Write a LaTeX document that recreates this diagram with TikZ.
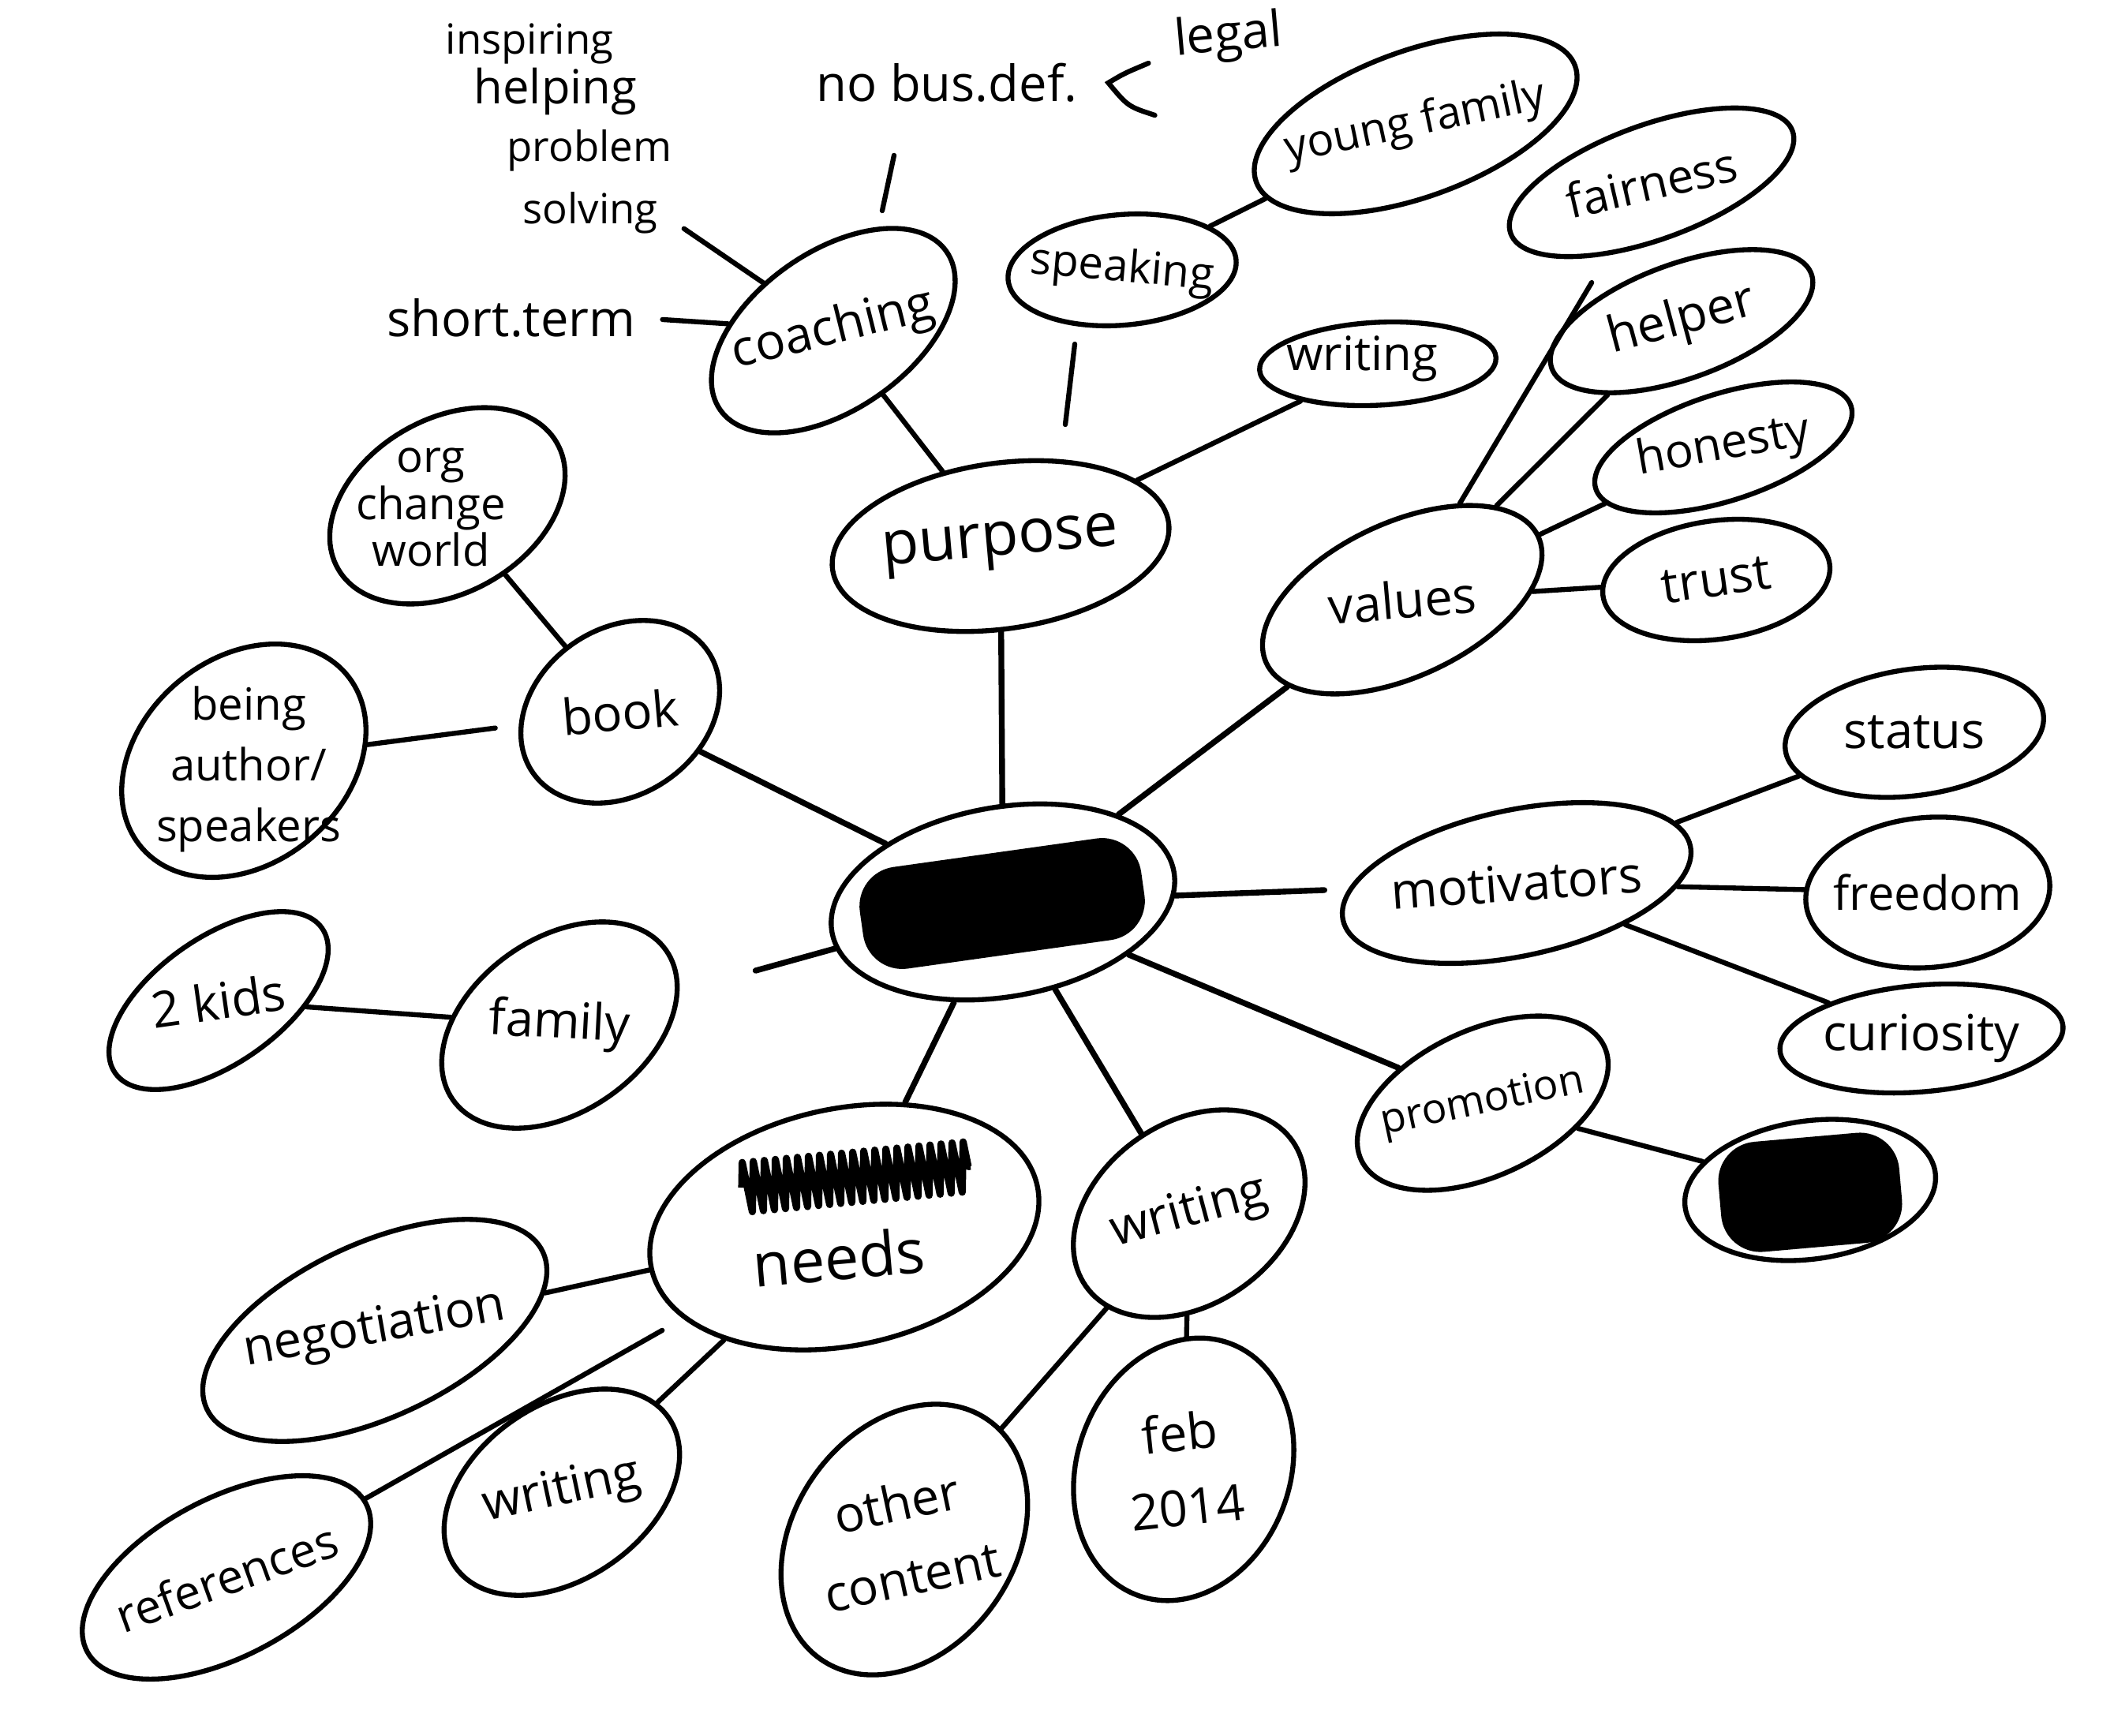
\documentclass[tikz,border=0pt]{standalone}
\usepackage{fontspec}
\setmainfont{Open Sans}
\usetikzlibrary{shapes.geometric,calc,decorations.pathmorphing}

\tikzset{
  bubble/.style={draw, ellipse, line width=1.8pt, inner sep=0pt},
  word/.style={font=\fontsize{18}{22}\selectfont, align=center, inner sep=1pt},
  bigword/.style={font=\fontsize{22}{26}\selectfont, inner sep=1pt},
  note/.style={font=\fontsize{15}{18}\selectfont, inner sep=1pt},
  blot/.style={fill=black, rectangle, rounded corners=0.5cm, inner sep=0pt},
  link/.style={line width=1.8pt, line cap=round},
}

\begin{document}
\begin{tikzpicture}
  \useasboundingbox (0,0) rectangle (26.79,-21.99);

  % centre (blacked out)
  \node[bubble, minimum width=4.4cm, minimum height=2.4cm, rotate=10] (hub) at (12.71,-11.43) {};
  \node[blot, minimum width=3.6cm, minimum height=1.3cm, rotate=8] (hubblot) at (12.70,-11.45) {};

  % purpose side
  \node[bubble, minimum width=4.3cm, minimum height=2.1cm, rotate=8] (purpose) at (12.68,-6.92) {};
  \node[bigword, rotate=5] (purpose-t) at (purpose) {purpose};
  \node[bubble, minimum width=3.5cm, minimum height=2.0cm, rotate=35] (coaching) at (10.56,-4.19) {};
  \node[word, rotate=14] (coaching-t) at (coaching) {coaching};
  \node[bubble, minimum width=2.9cm, minimum height=1.4cm, rotate=5] (speaking) at (14.22,-3.42) {};
  \node[word, font=\fontsize{16}{20}\selectfont, rotate=-5] (speaking-t) at (speaking) {speaking};
  \node[bubble, minimum width=4.3cm, minimum height=1.85cm, rotate=20] (youngfam) at (17.94,-1.57) {};
  \node[word, font=\fontsize{16}{20}\selectfont, rotate=12] (youngfam-t) at (youngfam) {young family};
  \node[bubble, minimum width=3.0cm, minimum height=1.05cm, rotate=3] (wrtop) at (17.46,-4.61) {};
  \node[word, font=\fontsize{17}{20}\selectfont] (wrtop-t) at (17.26,-4.55) {writing};

  \node[note] (inspiring) at (6.71,-0.55) {inspiring};
  \node[note, font=\fontsize{17}{20}\selectfont] (helping) at (7.04,-1.16) {helping};
  \node[note] (problem) at (7.47,-1.91) {problem};
  \node[note] (solving) at (7.48,-2.70) {solving};
  \node[word] (nobus) at (12.0,-1.05) {no bus.def.};
  \node[word, rotate=5] (legal) at (15.57,-0.48) {legal};
  \node[word] (shortterm) at (6.48,-4.03) {short.term};
  \coordinate (fork) at ([xshift=0.35cm]nobus.east);

  % values
  \node[bubble, minimum width=3.8cm, minimum height=1.95cm, rotate=25] (values) at (17.77,-7.60) {};
  \node[word, rotate=5] (values-t) at (values) {values};
  \node[bubble, minimum width=3.8cm, minimum height=1.45cm, rotate=20] (fairness) at (20.93,-2.31) {};
  \node[word, font=\fontsize{17}{20}\selectfont, rotate=13] (fairness-t) at (fairness) {fairness};
  \node[bubble, minimum width=3.5cm, minimum height=1.45cm, rotate=20] (helper) at (21.31,-4.07) {};
  \node[word, rotate=15] (helper-t) at (helper) {helper};
  \node[bubble, minimum width=3.4cm, minimum height=1.35cm, rotate=18] (honesty) at (21.84,-5.67) {};
  \node[word, font=\fontsize{17}{20}\selectfont, rotate=10] (honesty-t) at (honesty) {honesty};
  \node[bubble, minimum width=2.9cm, minimum height=1.5cm, rotate=8] (trust) at (21.75,-7.35) {};
  \node[word, rotate=8] (trust-t) at (trust) {trust};

  % book and family
  \node[bubble, minimum width=2.7cm, minimum height=2.1cm, rotate=35] (book) at (7.86,-9.02) {};
  \node[word, rotate=5] (book-t) at (book) {book};
  \node[bubble, minimum width=3.2cm, minimum height=2.2cm, rotate=30] (orgchange) at (5.67,-6.41) {};
  \node[word, font=\fontsize{16}{17}\selectfont] (orgchange-t) at (5.46,-6.43) {org\\change\\world};
  \node[bubble, minimum width=3.4cm, minimum height=2.6cm, rotate=40] (being) at (3.09,-9.64) {};
  \node[word, font=\fontsize{16}{22}\selectfont] (being-t) at (3.15,-9.75) {being\\author/\\speakers};
  \node[bubble, minimum width=3.3cm, minimum height=2.2cm, rotate=35] (family) at (7.09,-12.99) {};
  \node[word, rotate=-3] (family-t) at (family) {family};
  \node[bubble, minimum width=3.2cm, minimum height=1.6cm, rotate=35] (twokids) at (2.77,-12.68) {};
  \node[word, rotate=8] (twokids-t) at (twokids) {2 kids};

  % motivators
  \node[bubble, minimum width=4.5cm, minimum height=1.85cm, rotate=12] (motivators) at (19.22,-11.19) {};
  \node[word, rotate=4] (motivators-t) at (motivators) {motivators};
  \node[bubble, minimum width=3.3cm, minimum height=1.6cm, rotate=8] (status) at (24.26,-9.28) {};
  \node[word] (status-t) at (status) {status};
  \node[bubble, minimum width=3.1cm, minimum height=1.9cm, rotate=5] (freedom) at (24.43,-11.31) {};
  \node[word, font=\fontsize{17}{20}\selectfont] (freedom-t) at (freedom) {freedom};
  \node[bubble, minimum width=3.6cm, minimum height=1.35cm, rotate=5] (curiosity) at (24.35,-13.16) {};
  \node[word] (curiosity-t) at (curiosity) {curiosity};
  \node[bubble, minimum width=3.4cm, minimum height=1.85cm, rotate=25] (promotion) at (18.79,-13.98) {};
  \node[word, font=\fontsize{15}{18}\selectfont, rotate=12] (promotion-t) at (promotion) {promotion};
  \node[bubble, minimum width=3.2cm, minimum height=1.75cm, rotate=8] (secret) at (22.94,-15.08) {};
  \node[blot, minimum width=2.3cm, minimum height=1.4cm, rotate=5] (secretblot) at (22.94,-15.11) {};

  % needs and writing
  \node[bubble, minimum width=5.0cm, minimum height=3.0cm, rotate=12] (needs) at (10.70,-15.55) {};
  \node[bigword, rotate=5] (needs-t) at (10.63,-15.93) {needs};
  \coordinate (scribbleA) at (9.40,-15.05);
  \coordinate (scribbleB) at (12.30,-14.78);
  \node[bubble, minimum width=4.7cm, minimum height=2.2cm, rotate=25] (negotiation) at (4.75,-16.86) {};
  \node[word, rotate=10] (negotiation-t) at (negotiation) {negotiation};
  \node[bubble, minimum width=4.0cm, minimum height=2.0cm, rotate=28] (references) at (2.87,-19.99) {};
  \node[word, font=\fontsize{17}{20}\selectfont, rotate=20] (references-t) at (references) {references};
  \node[bubble, minimum width=3.3cm, minimum height=2.2cm, rotate=35] (wrlow) at (7.12,-18.91) {};
  \node[word, rotate=12] (wrlow-t) at (wrlow) {writing};
  \node[bubble, minimum width=3.2cm, minimum height=2.3cm, rotate=35] (wrmid) at (15.07,-15.38) {};
  \node[word, rotate=15] (wrmid-t) at (wrmid) {writing};
  \node[bubble, minimum width=3.7cm, minimum height=2.8cm, rotate=55] (other) at (11.46,-19.51) {};
  \node[word, font=\fontsize{18}{27}\selectfont, rotate=12] (other-t) at (other) {other\\content};
  \node[bubble, minimum width=3.4cm, minimum height=2.7cm, rotate=70] (feb) at (15.00,-18.62) {};
  \node[word, font=\fontsize{18}{27}\selectfont, rotate=6] (feb-t) at (feb) {feb\\2014};

  % connectors
  \path[link, line width=2.1pt]
    (hub) edge (purpose)
    (hub) edge (values)
    (hub) edge[shorten >=0.3cm] (motivators)
    (hub) edge (promotion)
    (hub) edge (wrmid)
    (hub) edge (needs)
    (hub) edge[shorten >=1cm] (family)
    (hub) edge (book);
  \path[link]
    (purpose) edge (coaching)
    (purpose) edge (wrtop)
    (speaking) edge (youngfam)
    (values) edge[shorten >=0.4cm] (fairness)
    (values) edge (helper)
    (values) edge (honesty)
    (values) edge (trust)
    (book) edge (orgchange)
    (book) edge[shorten <=0.3cm] (being)
    (family) edge (twokids)
    (motivators) edge (status)
    (motivators) edge (freedom)
    (motivators) edge (curiosity)
    (promotion) edge (secret)
    (needs) edge (negotiation)
    (needs) edge[shorten <=0.3cm] (references)
    (needs) edge (wrlow)
    (wrmid) edge (other)
    (wrmid) edge (feb);
  \draw[link] ([shift={(0.82,1.54)}]purpose.center) -- ([shift={(-0.6,-0.94)}]speaking.center);
  \draw[link, shorten <=0.35cm] (solving.east) -- (coaching);
  \draw[link, shorten <=0.3cm] (shortterm.east) -- (coaching);
  \draw[link] ([shift={(-0.67,-0.63)}]nobus.south) -- ([shift={(0.62,1.52)}]coaching.center);
  \draw[link] ($(fork)+(0.51,0.25)$) .. controls ($(fork)+(0.2,0.12)$) .. (fork)
    .. controls ($(fork)+(0.25,-0.3)$) .. ($(fork)+(0.59,-0.41)$);

  % crossed out word
  \draw[line width=2.6pt, line join=round, decorate,
    decoration={zigzag, segment length=4pt, amplitude=9pt}]
    (scribbleA) -- (scribbleB);
\end{tikzpicture}
\end{document}
